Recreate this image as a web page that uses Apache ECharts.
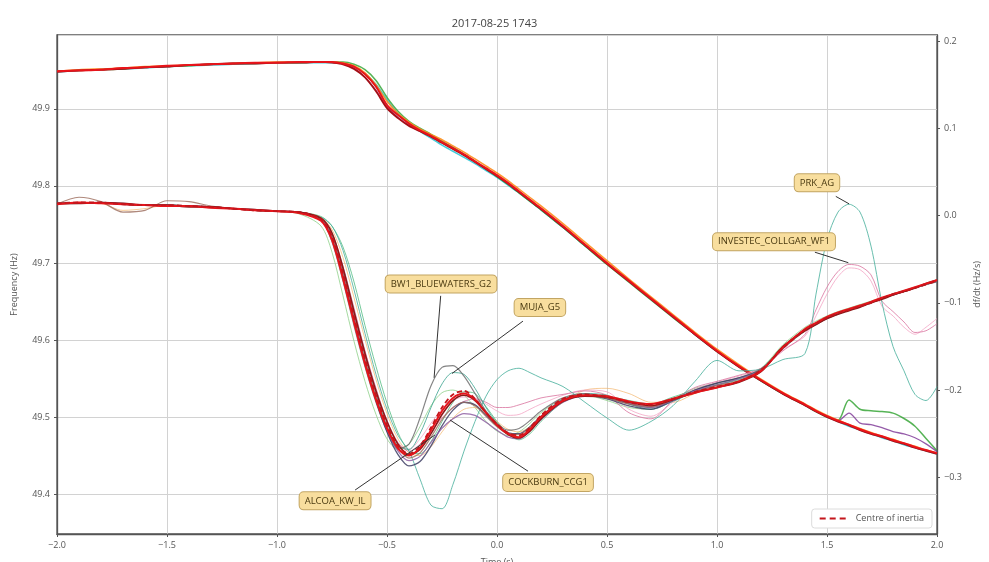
<!DOCTYPE html>
<html><head><meta charset="utf-8">
<script src="https://cdn.jsdelivr.net/npm/echarts@6/dist/echarts.min.js"></script>
<style>html,body{margin:0;padding:0;background:#fff}#c{width:989px;height:562px}</style>
</head><body><div id="c"></div>
<script>
// Time axis (s)
const T = [-2.0,-1.9,-1.8,-1.7,-1.6,-1.5,-1.4,-1.3,-1.2,-1.1,-1.0,-0.9,-0.8,
  -0.75,-0.7,-0.65,-0.6,-0.55,-0.5,-0.45,-0.4,-0.35,-0.3,-0.25,-0.2,-0.15,-0.1,-0.05,0.0,0.05,0.1,0.15,0.2,
  0.3,0.4,0.5,0.6,0.7,0.8,0.9,1.0,1.1,1.2,1.3,
  1.4,1.45,1.5,1.55,1.6,1.65,1.7,1.75,1.8,1.85,1.9,1.95,2.0];

// Frequency traces (Hz), left axis
const F_RED = [49.949,49.950,49.951,49.953,49.954,49.956,49.957,49.958,49.959,49.960,49.960,49.961,49.961,
  49.961,49.959,49.955,49.945,49.929,49.905,49.892,49.881,49.872,49.865,49.857,49.849,49.841,49.832,49.823,49.814,49.804,49.793,49.782,49.771,
  49.748,49.724,49.700,49.677,49.654,49.631,49.608,49.586,49.566,49.548,49.531,
  49.516,49.508,49.501,49.495,49.490,49.484,49.479,49.475,49.470,49.466,49.461,49.457,49.453];
const F_DARKRED = [49.948,49.950,49.951,49.952,49.954,49.955,49.957,49.958,49.959,49.959,49.960,49.960,49.961,
  49.960,49.958,49.952,49.941,49.923,49.901,49.888,49.878,49.871,49.864,49.856,49.848,49.840,49.831,49.822,49.813,49.803,49.792,49.781,49.770,
  49.747,49.723,49.699,49.676,49.653,49.630,49.607,49.585,49.565,49.547,49.530,
  49.515,49.507,49.500,49.494,49.489,49.483,49.478,49.474,49.469,49.465,49.460,49.456,49.452];
const F_ORANGE = [49.949,49.951,49.952,49.953,49.955,49.956,49.957,49.958,49.959,49.960,49.961,49.961,49.961,
  49.961,49.960,49.956,49.947,49.931,49.910,49.894,49.883,49.874,49.867,49.860,49.852,49.844,49.835,49.826,49.817,49.807,49.796,49.785,49.774,
  49.751,49.727,49.703,49.679,49.656,49.633,49.610,49.588,49.568,49.549,49.532,
  49.517,49.509,49.502,49.496,49.490,49.485,49.480,49.475,49.471,49.466,49.462,49.457,49.453];
const F_GREEN = [49.949,49.950,49.951,49.952,49.954,49.955,49.956,49.958,49.959,49.959,49.960,49.960,49.961,
  49.961,49.961,49.958,49.951,49.937,49.915,49.897,49.884,49.875,49.867,49.858,49.850,49.841,49.832,49.822,49.812,49.802,49.791,49.780,49.769,
  49.746,49.722,49.698,49.675,49.652,49.629,49.607,49.585,49.565,49.547,49.530,
  49.515,49.507,49.500,49.496,49.522,49.510,49.508,49.507,49.505,49.498,49.488,49.472,49.456];
const F_TEAL = [49.948,49.950,49.951,49.952,49.953,49.955,49.956,49.957,49.958,49.959,49.960,49.960,49.960,
  49.960,49.959,49.955,49.946,49.932,49.912,49.894,49.881,49.871,49.862,49.853,49.845,49.837,49.829,49.820,49.811,49.801,49.791,49.780,49.769,
  49.746,49.722,49.699,49.676,49.653,49.630,49.607,49.585,49.565,49.547,49.530,
  49.515,49.507,49.500,49.494,49.488,49.483,49.478,49.473,49.469,49.464,49.460,49.456,49.452];
const F_PURPLE = [49.949,49.950,49.951,49.953,49.954,49.955,49.957,49.958,49.959,49.960,49.960,49.961,49.961,
  49.961,49.959,49.953,49.941,49.924,49.903,49.889,49.879,49.871,49.864,49.856,49.848,49.840,49.831,49.822,49.813,49.803,49.792,49.781,49.770,
  49.747,49.723,49.700,49.676,49.653,49.630,49.607,49.586,49.566,49.548,49.531,
  49.516,49.508,49.501,49.495,49.505,49.492,49.490,49.486,49.481,49.478,49.473,49.465,49.455];

// Rate of change of frequency traces (Hz/s), right axis
const D_COI = [0.014,0.015,0.015,0.013,0.012,0.012,0.011,0.010,0.008,0.006,0.005,0.004,-0.004,
  -0.024,-0.066,-0.116,-0.164,-0.206,-0.240,-0.264,-0.273,-0.264,-0.243,-0.220,-0.205,-0.201,-0.210,-0.226,-0.239,-0.249,-0.252,-0.243,-0.229,
  -0.210,-0.205,-0.208,-0.214,-0.217,-0.210,-0.202,-0.196,-0.190,-0.177,-0.152,
  -0.131,-0.124,-0.117,-0.112,-0.108,-0.104,-0.100,-0.095,-0.090,-0.087,-0.083,-0.079,-0.075];
const D_RED = [0.013,0.015,0.014,0.013,0.012,0.011,0.011,0.009,0.008,0.006,0.005,0.003,-0.006,
  -0.028,-0.072,-0.122,-0.170,-0.211,-0.244,-0.267,-0.275,-0.266,-0.246,-0.224,-0.209,-0.204,-0.211,-0.226,-0.240,-0.250,-0.254,-0.245,-0.231,
  -0.212,-0.206,-0.207,-0.213,-0.216,-0.210,-0.203,-0.197,-0.190,-0.178,-0.151,
  -0.130,-0.123,-0.116,-0.111,-0.107,-0.103,-0.099,-0.094,-0.090,-0.086,-0.082,-0.078,-0.074];
const D_MAROON = [0.014,0.014,0.015,0.014,0.012,0.012,0.010,0.010,0.008,0.007,0.005,0.004,-0.003,
  -0.020,-0.060,-0.110,-0.158,-0.201,-0.236,-0.262,-0.274,-0.268,-0.250,-0.228,-0.212,-0.206,-0.212,-0.226,-0.240,-0.251,-0.255,-0.247,-0.233,
  -0.213,-0.207,-0.208,-0.214,-0.218,-0.211,-0.203,-0.197,-0.191,-0.179,-0.150,
  -0.132,-0.125,-0.118,-0.113,-0.109,-0.105,-0.100,-0.096,-0.091,-0.087,-0.083,-0.078,-0.074];
const D_BW1 = [0.013,0.014,0.015,0.013,0.012,0.012,0.011,0.009,0.008,0.006,0.005,0.003,-0.005,
  -0.030,-0.075,-0.126,-0.173,-0.214,-0.247,-0.267,-0.262,-0.232,-0.195,-0.174,-0.172,-0.184,-0.204,-0.224,-0.238,-0.246,-0.244,-0.235,-0.224,
  -0.209,-0.204,-0.209,-0.216,-0.220,-0.212,-0.200,-0.192,-0.186,-0.176,-0.152,
  -0.132,-0.125,-0.118,-0.113,-0.108,-0.104,-0.100,-0.095,-0.091,-0.087,-0.083,-0.079,-0.076];
const D_MUJA = [0.014,0.015,0.014,0.013,0.012,0.012,0.011,0.010,0.008,0.006,0.005,0.004,-0.004,
  -0.022,-0.060,-0.110,-0.160,-0.204,-0.241,-0.264,-0.268,-0.250,-0.220,-0.193,-0.180,-0.182,-0.198,-0.220,-0.238,-0.250,-0.254,-0.247,-0.234,
  -0.212,-0.204,-0.206,-0.216,-0.222,-0.213,-0.202,-0.194,-0.187,-0.176,-0.150,
  -0.130,-0.123,-0.117,-0.112,-0.108,-0.104,-0.099,-0.095,-0.090,-0.086,-0.083,-0.079,-0.075];
const D_ALCOA = [0.014,0.014,0.015,0.013,0.012,0.011,0.011,0.010,0.008,0.006,0.005,0.004,-0.005,
  -0.026,-0.068,-0.119,-0.168,-0.212,-0.248,-0.274,-0.287,-0.282,-0.264,-0.241,-0.223,-0.214,-0.217,-0.229,-0.241,-0.249,-0.250,-0.242,-0.230,
  -0.211,-0.206,-0.210,-0.218,-0.222,-0.212,-0.200,-0.192,-0.186,-0.177,-0.152,
  -0.131,-0.124,-0.117,-0.112,-0.108,-0.104,-0.099,-0.095,-0.091,-0.087,-0.083,-0.079,-0.075];
const D_COCKBURN = [0.014,0.015,0.015,0.014,0.012,0.012,0.011,0.010,0.008,0.007,0.005,0.004,-0.004,
  -0.024,-0.066,-0.117,-0.166,-0.209,-0.245,-0.270,-0.281,-0.276,-0.260,-0.244,-0.233,-0.227,-0.229,-0.237,-0.246,-0.254,-0.256,-0.247,-0.234,
  -0.214,-0.207,-0.208,-0.215,-0.220,-0.212,-0.201,-0.194,-0.187,-0.177,-0.151,
  -0.131,-0.124,-0.118,-0.112,-0.108,-0.104,-0.100,-0.095,-0.091,-0.087,-0.083,-0.079,-0.075];
const D_PRK = [0.014,0.015,0.015,0.013,0.012,0.012,0.011,0.010,0.008,0.006,0.005,0.004,-0.002,
  -0.012,-0.040,-0.085,-0.135,-0.182,-0.222,-0.252,-0.270,-0.302,-0.332,-0.336,-0.308,-0.270,-0.236,-0.207,-0.188,-0.178,-0.175,-0.180,-0.186,
  -0.196,-0.214,-0.232,-0.246,-0.236,-0.218,-0.190,-0.166,-0.178,-0.176,-0.165,
  -0.158,-0.090,-0.028,0.004,0.013,0.004,-0.035,-0.100,-0.150,-0.178,-0.205,-0.212,-0.196];
const D_INVESTEC = [0.014,0.015,0.014,0.013,0.012,0.012,0.011,0.010,0.008,0.006,0.005,0.004,-0.003,
  -0.020,-0.058,-0.106,-0.155,-0.198,-0.235,-0.260,-0.270,-0.262,-0.248,-0.232,-0.220,-0.213,-0.210,-0.214,-0.220,-0.220,-0.217,-0.213,-0.209,
  -0.205,-0.201,-0.206,-0.226,-0.233,-0.212,-0.197,-0.190,-0.183,-0.175,-0.155,
  -0.136,-0.108,-0.082,-0.064,-0.056,-0.058,-0.068,-0.098,-0.110,-0.122,-0.134,-0.132,-0.124];
const D_PINK2 = [0.014,0.014,0.015,0.013,0.012,0.012,0.011,0.010,0.008,0.006,0.005,0.004,-0.003,
  -0.022,-0.062,-0.112,-0.160,-0.203,-0.238,-0.261,-0.268,-0.256,-0.238,-0.222,-0.212,-0.208,-0.210,-0.216,-0.224,-0.229,-0.228,-0.222,-0.216,
  -0.206,-0.200,-0.202,-0.222,-0.230,-0.214,-0.199,-0.191,-0.184,-0.176,-0.154,
  -0.138,-0.115,-0.090,-0.070,-0.060,-0.062,-0.075,-0.104,-0.115,-0.128,-0.136,-0.128,-0.118];
const D_LGREEN = [0.014,0.015,0.015,0.013,0.012,0.012,0.011,0.010,0.008,0.006,0.005,0.002,-0.012,
  -0.042,-0.092,-0.144,-0.190,-0.228,-0.256,-0.268,-0.262,-0.242,-0.218,-0.203,-0.200,-0.206,-0.220,-0.236,-0.247,-0.252,-0.248,-0.238,-0.226,
  -0.210,-0.206,-0.212,-0.220,-0.222,-0.210,-0.198,-0.192,-0.186,-0.175,-0.148,
  -0.128,-0.121,-0.115,-0.110,-0.106,-0.102,-0.098,-0.094,-0.090,-0.086,-0.082,-0.078,-0.074];
const D_GREEN = [0.014,0.014,0.015,0.013,0.012,0.012,0.011,0.010,0.008,0.006,0.005,0.004,-0.001,
  -0.012,-0.036,-0.076,-0.126,-0.173,-0.215,-0.249,-0.270,-0.273,-0.259,-0.236,-0.214,-0.202,-0.204,-0.219,-0.236,-0.250,-0.257,-0.250,-0.236,
  -0.214,-0.206,-0.207,-0.212,-0.216,-0.208,-0.200,-0.194,-0.188,-0.176,-0.150,
  -0.130,-0.123,-0.117,-0.112,-0.108,-0.103,-0.099,-0.095,-0.090,-0.086,-0.082,-0.079,-0.075];
const D_TAN = [0.014,0.015,0.014,0.006,0.008,0.012,0.011,0.009,0.008,0.006,0.005,0.004,-0.002,
  -0.016,-0.048,-0.094,-0.142,-0.188,-0.227,-0.256,-0.272,-0.275,-0.265,-0.248,-0.232,-0.222,-0.220,-0.226,-0.236,-0.245,-0.248,-0.242,-0.232,
  -0.214,-0.200,-0.198,-0.204,-0.214,-0.214,-0.204,-0.196,-0.190,-0.178,-0.152,
  -0.132,-0.124,-0.118,-0.113,-0.108,-0.104,-0.100,-0.095,-0.091,-0.087,-0.083,-0.079,-0.075];
const D_BROWN = [0.013,0.021,0.016,0.004,0.006,0.017,0.016,0.011,0.008,0.006,0.005,0.004,-0.004,
  -0.024,-0.066,-0.116,-0.165,-0.207,-0.242,-0.266,-0.278,-0.272,-0.254,-0.234,-0.220,-0.214,-0.218,-0.230,-0.242,-0.250,-0.251,-0.243,-0.231,
  -0.212,-0.206,-0.209,-0.216,-0.219,-0.211,-0.202,-0.195,-0.189,-0.177,-0.151,
  -0.131,-0.124,-0.117,-0.112,-0.108,-0.104,-0.100,-0.095,-0.090,-0.087,-0.083,-0.079,-0.075];

// Annotation layout (label centre, arrow start, arrow tip) in (s, Hz/s)
const annotations = [
  {name:'PRK_AG',               lx:1.4545, ly:0.0375,  sx:1.540,  sy:0.022,  tx:1.600,  ty:0.0135},
  {name:'INVESTEC_COLLGAR_WF1', lx:1.259,  ly:-0.030,  sx:1.445,  sy:-0.042, tx:1.597,  ty:-0.054},
  {name:'BW1_BLUEWATERS_G2',    lx:-0.2545,ly:-0.0783, sx:-0.256, sy:-0.092, tx:-0.286, ty:-0.186},
  {name:'MUJA_G5',              lx:0.195,  ly:-0.1053, sx:0.118,  sy:-0.121, tx:-0.2045,ty:-0.181},
  {name:'ALCOA_KW_IL',          lx:-0.736, ly:-0.327,  sx:-0.645, sy:-0.3146,tx:-0.282, ty:-0.2515},
  {name:'COCKBURN_CCG1',        lx:0.232,  ly:-0.306,  sx:0.141,  sy:-0.293, tx:-0.2136,ty:-0.2343}
];

const FONT = '"Open Sans", "DejaVu Sans", sans-serif';
const minus = v => String(v).replace('-', '\u2212');
const pairs = vals => T.map((t, i) => [t, vals[i]]);

const freqDefs = [
  [F_TEAL, '#17becf', 1.5, 0.8],
  [F_GREEN, '#2ca02c', 1.5, 0.8],
  [F_PURPLE, '#7b3294', 1.3, 0.8],
  [F_ORANGE, '#ff8c1a', 1.5, 0.9],
  [F_DARKRED, '#a50f15', 1.8, 1],
  [F_RED, '#e8141b', 2, 1]
];
const dfdtDefs = [
  [D_LGREEN, '#8fd18a', 1, 0.8],
  [D_GREEN, '#3cb371', 1, 0.7],
  [D_TAN, '#f2b56b', 1, 0.7],
  [D_PINK2, '#f4a6c6', 1, 0.8],
  [D_INVESTEC, '#d9739f', 1, 0.8],
  [D_PRK, '#4fb3a0', 1, 0.85],
  [D_MUJA, '#3aa38f', 1, 0.8],
  [D_BW1, '#6f6f6f', 1.2, 0.85],
  [D_ALCOA, '#3e3e64', 1.3, 0.85],
  [D_COCKBURN, '#8e5ea2', 1.2, 0.85],
  [D_BROWN, '#9b6a5a', 1.2, 0.8],
  [D_MAROON, '#8b1a1a', 1.6, 1],
  [D_RED, '#e8141b', 2, 1]
];

const series = [];
freqDefs.forEach((d, i) => series.push({
  type:'line', name:'f' + i, yAxisIndex:0, data:pairs(d[0]), showSymbol:false, smooth:0.3,
  lineStyle:{color:d[1], width:d[2], opacity:d[3]}, itemStyle:{color:d[1]}, silent:true, z:2
}));
dfdtDefs.forEach((d, i) => series.push({
  type:'line', name:'d' + i, yAxisIndex:1, data:pairs(d[0]), showSymbol:false, smooth:0.3,
  lineStyle:{color:d[1], width:d[2], opacity:d[3]}, itemStyle:{color:d[1]}, silent:true, z:2
}));
series.push({
  type:'line', name:'Centre of inertia', yAxisIndex:1, data:pairs(D_COI), showSymbol:false, symbol:'none', smooth:0.3,
  lineStyle:{color:'#c4161c', width:1.8, type:[5,3]}, itemStyle:{color:'#c4161c'}, silent:true, z:3
});
series.push({
  type:'line', name:'annot', yAxisIndex:1, data:[], silent:true, z:5,
  markLine:{
    silent:true, symbol:['none','arrow'], symbolSize:[0,7], animation:false,
    lineStyle:{color:'#333', width:1, type:'solid'}, label:{show:false},
    data: annotations.map(a => [{coord:[a.sx, a.sy]}, {coord:[a.tx, a.ty]}])
  },
  markPoint:{
    silent:true, animation:false, symbol:'rect', symbolSize:1, itemStyle:{color:'rgba(0,0,0,0)'},
    label:{show:true, position:'inside', formatter:'{b}', fontFamily:FONT, fontSize:9.5, color:'#4a3a10',
      backgroundColor:'#f8de9e', borderColor:'#c2a563', borderWidth:1, borderRadius:4, padding:[4,5,3,5]},
    data: annotations.map(a => ({name:a.name, coord:[a.lx, a.ly], value:0}))
  }
});

const chart = echarts.init(document.getElementById('c'), null, {renderer:'canvas'});
chart.setOption({
  animation:false,
  backgroundColor:'#fff',
  textStyle:{fontFamily:FONT},
  title:{text:'2017-08-25 1743', left:'center', top:13, textStyle:{fontFamily:FONT, fontSize:11, fontWeight:'normal', color:'#444'}},
  legend:{data:[{name:'Centre of inertia', icon:'path://M0,0h6v2h-6z M10,0h6v2h-6z M20,0h6v2h-6z'}], right:57, bottom:34, orient:'horizontal',
    backgroundColor:'#fff', borderColor:'#dcdcdc', borderWidth:1, borderRadius:3, padding:[5,8,5,8],
    itemWidth:28, itemHeight:2, itemGap:6, textStyle:{fontFamily:FONT, fontSize:9, color:'#555', padding:[0,0,0,4]}},
  grid:{left:57, right:52, top:35, bottom:28, show:true, borderColor:'#555', borderWidth:1.3, containLabel:false, outerBoundsMode:'none'},
  xAxis:{type:'value', min:-2, max:2, interval:0.5, name:'Time (s)', nameLocation:'middle', nameGap:24,
    nameTextStyle:{fontFamily:FONT, fontSize:9, color:'#555'},
    axisLine:{show:true, onZero:false, lineStyle:{color:'#555', width:1.3}},
    axisTick:{show:true, inside:false, length:3, lineStyle:{color:'#555'}},
    axisLabel:{fontFamily:FONT, fontSize:9, color:'#555', margin:7, formatter:v => minus(v.toFixed(1))},
    splitLine:{show:true, lineStyle:{color:'#d2d2d2', width:1}}},
  yAxis:[
    {type:'value', min:49.348, max:49.996, splitNumber:5, position:'left', name:'Frequency (Hz)', nameLocation:'middle', nameGap:38,
      nameTextStyle:{fontFamily:FONT, fontSize:9, color:'#555'},
      axisLine:{show:true, onZero:false, lineStyle:{color:'#555', width:1.3}},
      axisTick:{show:true, length:3, lineStyle:{color:'#555'}},
      axisLabel:{fontFamily:FONT, fontSize:9, color:'#555', margin:7, showMinLabel:false, showMaxLabel:false, formatter:v => v.toFixed(1)},
      splitLine:{show:true, lineStyle:{color:'#d2d2d2', width:1}}},
    {type:'value', min:-0.365, max:0.207, splitNumber:5, position:'right', name:'df/dt (Hz/s)', nameLocation:'middle', nameGap:36, nameRotate:90,
      nameTextStyle:{fontFamily:FONT, fontSize:9, color:'#555'},
      axisLine:{show:true, onZero:false, lineStyle:{color:'#555', width:1.3}},
      axisTick:{show:true, length:3, lineStyle:{color:'#555'}},
      axisLabel:{fontFamily:FONT, fontSize:9, color:'#555', margin:7, showMinLabel:false, showMaxLabel:false, formatter:v => minus(v.toFixed(1))},
      splitLine:{show:false}}
  ],
  series: series
});
</script></body></html>
